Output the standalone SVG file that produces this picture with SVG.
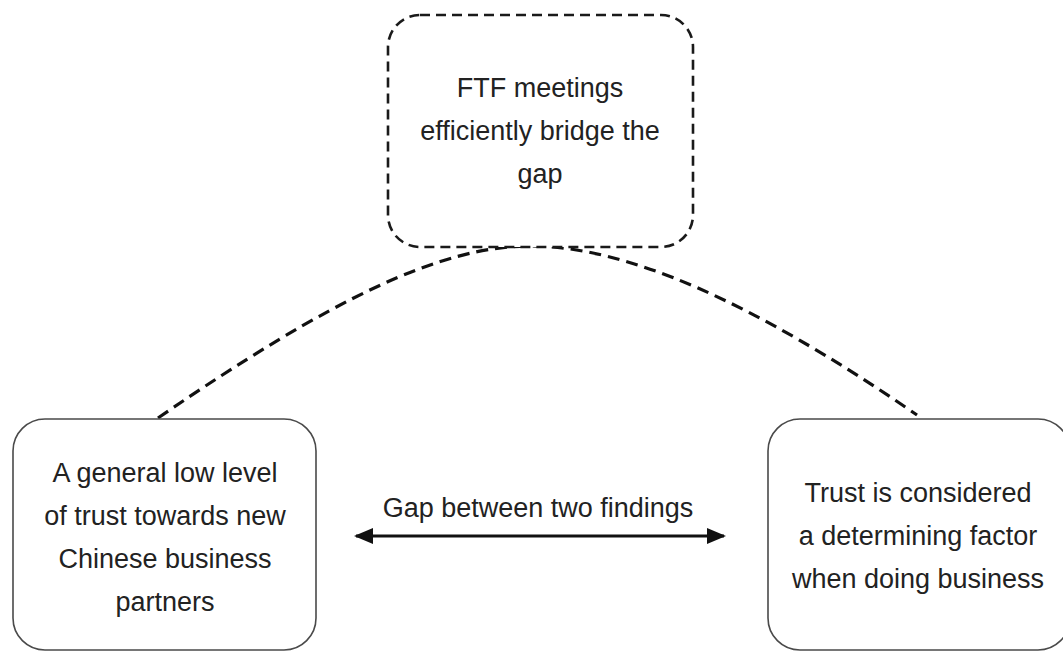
<svg xmlns="http://www.w3.org/2000/svg" width="1063" height="652" viewBox="0 0 1063 652">
<style>
.bg{fill:#ffffff}
.box{fill:#ffffff;stroke:#4a4a4a;stroke-width:1.6}
.dbox{fill:#ffffff;stroke:#1a1a1a;stroke-width:2.6;stroke-dasharray:10 6}
.curve{fill:none;stroke:#111;stroke-width:3.2;stroke-dasharray:12 7}
.arrow{fill:none;stroke:#111;stroke-width:3.2}
text{font-family:"Liberation Sans",Arial,sans-serif;font-size:27px;fill:#222;text-anchor:middle}
</style>
<defs>
<marker id="ah" viewBox="0 0 19 16" refX="17" refY="8" markerWidth="19" markerHeight="16" markerUnits="userSpaceOnUse" orient="auto-start-reverse">
<path d="M0,0 L19,8 L0,16 Z" fill="#111"/>
</marker>
</defs>
<rect class="bg" x="0" y="0" width="1063" height="652"/>
<g id="connectors">
<path class="curve" d="M158,418 C330,300 440,246 530,246 C625,246 750,300 917,415"/>
<line class="arrow" x1="356" y1="536" x2="724" y2="536" marker-start="url(#ah)" marker-end="url(#ah)"/>
<text x="538" y="517">Gap between two findings</text>
</g>
<g id="node-top">
<rect class="dbox" x="388" y="15" width="305" height="232" rx="32" ry="32"/>
<text x="540" y="97">FTF meetings</text>
<text x="540" y="140">efficiently bridge the</text>
<text x="540" y="183">gap</text>
</g>
<g id="node-left">
<rect class="box" x="13" y="419" width="303" height="231" rx="32" ry="32"/>
<text x="165" y="482">A general low level</text>
<text x="165" y="525">of trust towards new</text>
<text x="165" y="568">Chinese business</text>
<text x="165" y="611">partners</text>
</g>
<g id="node-right">
<rect class="box" x="768" y="419" width="302" height="231" rx="32" ry="32"/>
<text x="918" y="502">Trust is considered</text>
<text x="918" y="545">a determining factor</text>
<text x="918" y="588">when doing business</text>
</g>
</svg>
